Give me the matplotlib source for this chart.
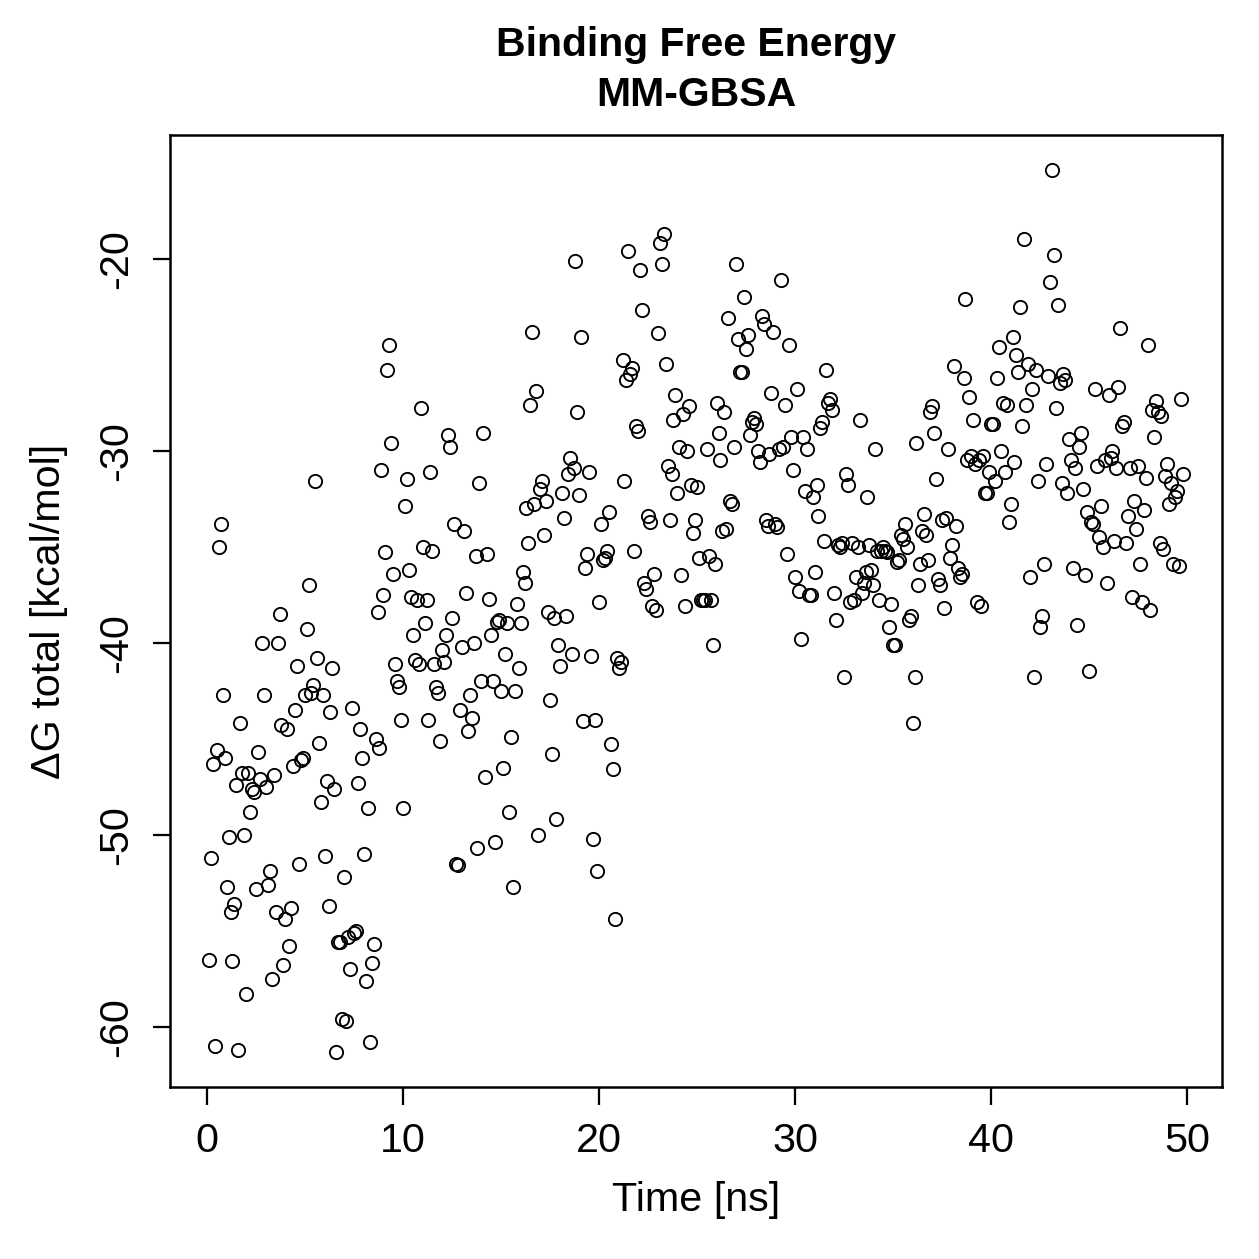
import numpy as np
import matplotlib
matplotlib.use('Agg')
import matplotlib.pyplot as plt

plt.rcParams['font.family'] = ['Liberation Sans', 'DejaVu Sans']

# Binding free energy (kcal/mol), one frame every 0.1 ns
dg_total = [
    -56.5, -51.2, -46.3, -61.0, -45.6, -35.0, -33.8, -42.7, -46.0, -52.7,
    -50.1, -54.0, -56.6, -53.6, -47.4, -61.2, -44.2, -46.8, -50.0, -58.3,
    -46.8, -48.8, -47.6, -47.8, -52.8, -45.7, -47.1, -40.0, -42.7, -47.5,
    -52.6, -51.9, -57.5, -46.9, -54.0, -40.0, -38.5, -44.3, -56.8, -54.4,
    -44.5, -55.8, -53.8, -46.4, -43.5, -41.2, -51.5, -46.1, -46.0, -42.7,
    -39.3, -37.0, -42.6, -42.2, -31.6, -40.8, -45.2, -48.3, -42.7, -51.1,
    -47.2, -53.7, -43.6, -41.3, -47.6, -61.3, -55.6, -55.6, -59.6, -52.2,
    -59.7, -55.3, -57.0, -43.4, -55.1, -55.0, -47.3, -44.5, -46.0, -51.0,
    -57.6, -48.6, -60.8, -56.7, -55.7, -45.0, -38.4, -45.5, -31.0, -37.5,
    -35.3, -25.8, -24.5, -29.6, -36.4, -41.1, -42.0, -42.3, -44.0, -48.6,
    -32.9, -31.5, -36.2, -37.6, -39.6, -40.9, -37.8, -41.1, -27.8, -35.0,
    -39.0, -37.8, -44.0, -31.1, -35.2, -41.1, -42.3, -42.6, -45.1, -40.4,
    -41.0, -39.6, -29.2, -29.8, -38.7, -33.8, -51.5, -51.6, -43.5, -40.2,
    -34.2, -37.4, -44.6, -42.7, -43.9, -40.0, -35.5, -50.7, -31.7, -42.0,
    -29.1, -47.0, -35.4, -37.7, -39.6, -42.0, -50.4, -38.9, -38.8, -42.5,
    -46.5, -40.6, -39.0, -48.8, -44.9, -52.7, -42.5, -38.0, -41.3, -39.0,
    -36.3, -36.9, -33.0, -34.8, -27.6, -23.8, -32.8, -26.9, -50.0, -32.0,
    -31.6, -34.4, -32.6, -38.4, -43.0, -45.8, -38.7, -49.2, -40.1, -41.2,
    -32.2, -33.5, -38.6, -31.2, -30.4, -40.6, -30.9, -20.1, -28.0, -32.3,
    -24.1, -44.1, -36.1, -35.4, -31.1, -40.7, -50.2, -44.0, -51.9, -37.9,
    -33.8, -35.7, -35.6, -35.2, -33.2, -45.3, -46.6, -54.4, -40.8, -41.3,
    -41.0, -25.3, -31.6, -26.3, -19.6, -26.0, -25.7, -35.2, -28.7, -29.0,
    -20.6, -22.7, -36.9, -37.2, -33.4, -33.7, -38.1, -36.4, -38.3, -23.9,
    -19.2, -20.3, -18.7, -25.5, -30.8, -33.6, -31.2, -28.4, -27.1, -32.2,
    -29.8, -36.5, -28.1, -38.1, -30.0, -27.7, -31.8, -34.3, -33.6, -31.9,
    -35.6, -37.8, -37.8, -37.8, -29.9, -35.5, -37.8, -40.1, -35.9, -27.5,
    -29.1, -30.5, -34.2, -28.0, -34.1, -23.1, -32.6, -32.8, -29.8, -20.3,
    -24.2, -25.9, -25.9, -22.0, -24.7, -24.0, -29.2, -28.5, -28.3, -28.6,
    -30.0, -30.6, -23.0, -23.4, -33.6, -33.9, -30.2, -27.0, -23.8, -33.8,
    -34.0, -29.9, -21.1, -29.8, -27.6, -35.4, -24.5, -29.3, -31.0, -36.6,
    -26.8, -37.3, -39.8, -29.3, -32.1, -29.9, -37.5, -37.5, -32.4, -36.3,
    -31.8, -33.4, -28.8, -28.5, -34.7, -25.8, -27.5, -27.3, -27.9, -37.4,
    -38.8, -34.9, -35.0, -34.8, -41.8, -31.2, -31.8, -37.9, -34.8, -37.8,
    -36.6, -35.0, -28.4, -37.4, -36.9, -36.3, -32.4, -34.9, -36.2, -37.0,
    -29.9, -35.2, -37.8, -35.2, -35.0, -35.2, -35.3, -39.2, -38.0, -40.1,
    -40.1, -35.8, -35.7, -34.4, -34.6, -33.8, -35.0, -38.8, -38.6, -44.2,
    -41.8, -29.6, -37.0, -35.9, -34.2, -33.3, -34.4, -35.7, -28.0, -27.7,
    -29.1, -31.5, -36.7, -37.0, -33.6, -38.2, -33.5, -29.9, -35.6, -34.9,
    -25.6, -33.9, -36.1, -36.6, -36.4, -26.2, -22.1, -30.5, -27.2, -30.3,
    -28.4, -30.7, -37.9, -30.5, -38.1, -30.3, -32.2, -32.2, -31.1, -28.6,
    -28.6, -31.6, -26.2, -24.6, -30.0, -27.5, -31.1, -27.6, -33.7, -32.8,
    -24.1, -30.6, -25.0, -25.9, -22.5, -28.7, -19.0, -27.6, -25.5, -36.6,
    -26.8, -41.8, -25.8, -31.6, -39.2, -38.6, -35.9, -30.7, -26.1, -21.2,
    -15.4, -19.8, -27.8, -22.4, -26.5, -31.7, -26.0, -26.3, -32.2, -29.4,
    -30.5, -36.1, -30.9, -39.1, -29.8, -29.1, -32.0, -36.5, -33.2, -41.5,
    -33.7, -33.8, -26.8, -30.8, -34.5, -32.9, -35.0, -30.5, -36.9, -27.1,
    -30.4, -30.0, -34.7, -30.9, -26.7, -23.6, -28.7, -28.5, -34.8, -33.4,
    -30.9, -37.6, -32.6, -34.1, -30.8, -35.9, -37.9, -33.1, -31.4, -24.5,
    -38.3, -27.9, -29.3, -27.4, -28.0, -34.8, -28.2, -35.1, -31.3, -30.7,
    -32.8, -31.7, -35.9, -32.4, -32.1, -36.0, -27.3, -31.2,
]
time_step_ns = 0.1
time_ns = np.arange(1, len(dg_total) + 1) * time_step_ns

x_ticks = [0, 10, 20, 30, 40, 50]
y_ticks = [-60, -50, -40, -30, -20]

W = H = 1259
dpi = 180
fig = plt.figure(figsize=(W / dpi, H / dpi), dpi=dpi)
ax = fig.add_axes([170 / W, 1 - 1087 / H, (1222 - 170) / W, (1087 - 135) / H])

ax.plot(time_ns, dg_total, linestyle='none', marker='o', markersize=5.3,
        markerfacecolor='none', markeredgecolor='black', markeredgewidth=0.75)

# R-style 4% padding around the data range
xr = max(time_ns) - min(time_ns)
yr = max(dg_total) - min(dg_total)
ax.set_xlim(min(time_ns) - 0.04 * xr, max(time_ns) + 0.04 * xr)
ax.set_ylim(min(dg_total) - 0.04 * yr, max(dg_total) + 0.04 * yr)

ax.set_xticks(x_ticks)
ax.set_yticks(y_ticks)
ax.set_yticklabels([str(v) for v in y_ticks], rotation=90, va='center')
ax.tick_params(direction='out', length=7, width=0.9, labelsize=16.5, pad=7)
ax.tick_params(axis='y', pad=7)
for s in ax.spines.values():
    s.set_linewidth(1.0)

fig.text(696 / W, 1 - 1200 / H, 'Time [ns]', ha='center', va='center', fontsize=16.5)
fig.text(49 / W, 1 - 611 / H, 'ΔG total [kcal/mol]', ha='center', va='center',
         rotation=90, fontsize=16.5)
fig.text(696 / W, 1 - 45 / H, 'Binding Free Energy', ha='center', va='center',
         fontsize=16.4, fontweight='bold')
fig.text(696 / W, 1 - 95 / H, 'MM-GBSA', ha='center', va='center',
         fontsize=16.4, fontweight='bold')

fig.savefig('out.png', dpi=dpi)
